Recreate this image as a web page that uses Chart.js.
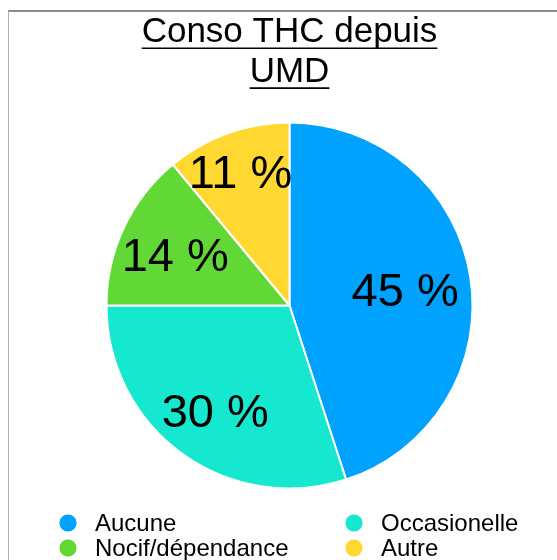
<!DOCTYPE html>
<html>
<head>
<meta charset="utf-8">
<script src="https://cdn.jsdelivr.net/npm/chart.js@4/dist/chart.umd.min.js"></script>
<style>
html, body { margin: 0; padding: 0; overflow: hidden; background: #fff; }
#frame { position: absolute; left: 8px; top: 10px; width: 700px; height: 700px;
  border-top: 2px solid #8a8a8a; border-left: 1px solid #b0b0b0; }
#graph1 { position: absolute; left: 0; top: 0; }
</style>
</head>
<body>
<div id="frame"></div>
<canvas id="graph1" width="579" height="600"></canvas>
<script>
const categories = ["Aucune", "Occasionelle", "Nocif/dépendance", "Autre"];
const percents = [45, 30, 14, 11];
const colors = ["#00A2FF", "#16E7CF", "#61D836", "#FFD932"];
const titleLines = ["Conso THC depuis", "UMD"];

const fontFam = "'Liberation Sans', Arial, Helvetica, sans-serif";

// where each % label sits, as a fraction of the radius
const labelRadius = [0.64, 0.69, 0.69, 0.79];

const underlineTitle = {
  id: 'underlineTitle',
  afterDraw(chart) {
    const t = chart.titleBlock;
    const opts = chart.options.plugins.title;
    const size = opts.font.size;
    const lh = size * opts.font.lineHeight;
    const ctx = chart.ctx;
    ctx.save();
    ctx.font = size + "px " + fontFam;
    ctx.strokeStyle = "#000";
    ctx.lineWidth = 1.6;
    const cx = (t.left + t.right) / 2;
    titleLines.forEach((txt, i) => {
      const w = ctx.measureText(txt).width;
      const y = t.top + opts.padding.top + lh * (i + 0.5) + size * 0.35 + 4;
      ctx.beginPath();
      ctx.moveTo(cx - w / 2, y);
      ctx.lineTo(cx + w / 2, y);
      ctx.stroke();
    });
    ctx.restore();
  }
};

const sliceLabels = {
  id: 'sliceLabels',
  afterDatasetsDraw(chart) {
    const ctx = chart.ctx;
    const arcs = chart.getDatasetMeta(0).data;
    ctx.save();
    ctx.font = "47px " + fontFam;
    ctx.fillStyle = "#000";
    ctx.textAlign = "center";
    ctx.textBaseline = "middle";
    arcs.forEach((arc, i) => {
      const p = arc.getProps(['x', 'y', 'startAngle', 'endAngle', 'outerRadius'], true);
      const mid = (p.startAngle + p.endAngle) / 2;
      const r = p.outerRadius * labelRadius[i];
      ctx.fillText(percents[i] + " %", p.x + Math.cos(mid) * r, p.y + Math.sin(mid) * r + 6);
    });
    ctx.restore();
  }
};

const gridLegend = {
  id: 'gridLegend',
  afterDraw(chart) {
    const ctx = chart.ctx;
    const cx = chart.width / 2;
    const colX = [cx - 221.5, cx + 64.5];
    const rowY = [chart.chartArea.bottom + 33.5, chart.chartArea.bottom + 58.5];
    ctx.save();
    ctx.font = "24px " + fontFam;
    ctx.textBaseline = "middle";
    ctx.textAlign = "left";
    categories.forEach((c, i) => {
      const x = colX[i % 2], y = rowY[Math.floor(i / 2)];
      ctx.beginPath();
      ctx.arc(x, y, 9, 0, Math.PI * 2);
      ctx.fillStyle = colors[i];
      ctx.fill();
      ctx.strokeStyle = "rgba(255,255,255,0.8)";
      ctx.lineWidth = 1;
      ctx.stroke();
      ctx.fillStyle = "#000";
      ctx.fillText(c, x + 27, y + 1);
    });
    ctx.restore();
  }
};

new Chart(document.getElementById("graph1"), {
  type: 'pie',
  data: {
    labels: categories,
    datasets: [{
      data: percents,
      backgroundColor: colors,
      borderColor: "#ffffff",
      borderWidth: 2
    }]
  },
  options: {
    responsive: false,
    animation: false,
    layout: { padding: { top: 0, bottom: 110.5, left: 0, right: 0 } },
    plugins: {
      legend: { display: false },
      tooltip: { enabled: false },
      title: {
        display: true,
        text: titleLines,
        color: "#000",
        font: { family: fontFam, size: 35, weight: 'normal', lineHeight: 1.14 },
        padding: { top: 12, bottom: 29.7 }
      }
    }
  },
  plugins: [underlineTitle, sliceLabels, gridLegend]
});
</script>
</body>
</html>
